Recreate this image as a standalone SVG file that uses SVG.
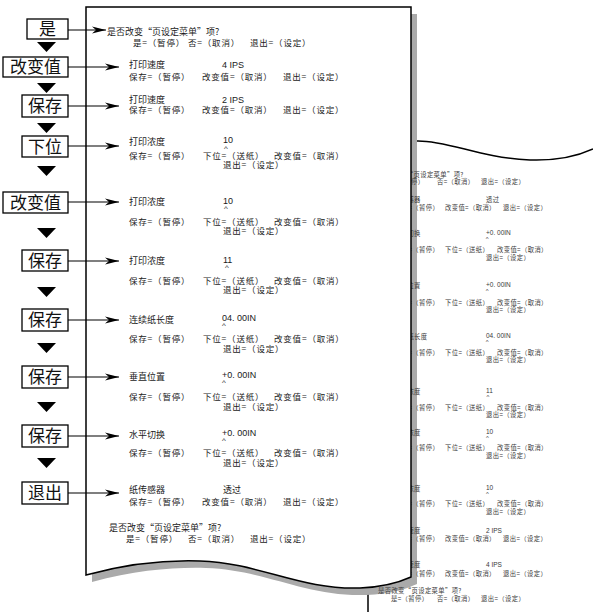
<svg xmlns="http://www.w3.org/2000/svg" width="593" height="612" viewBox="0 0 593 612">
<defs>
<style>
.t{font-family:"Noto Sans CJK SC","Liberation Sans",sans-serif;font-size:8.5px;fill:#1a1a1a;letter-spacing:0.8px}
.lb{font-size:9px;letter-spacing:0}
.n{font-family:"Liberation Sans",sans-serif;font-size:9px;letter-spacing:0}
.c{font-family:"Liberation Sans",sans-serif;font-size:8px;letter-spacing:0}
.s{font-family:"Noto Sans CJK SC","Liberation Sans",sans-serif;font-size:6.3px;fill:#3a3a3a;letter-spacing:0.4px}
.sn{font-family:"Liberation Sans",sans-serif;font-size:6.5px;letter-spacing:0}
.sc{font-family:"Liberation Sans",sans-serif;font-size:6px;letter-spacing:0}
.box{fill:#fff;stroke:#000;stroke-width:1.3}
.bl{font-family:"Noto Sans CJK SC","Liberation Sans",sans-serif;font-size:17px;fill:#111;text-anchor:middle}
.ln{stroke:#000;stroke-width:1.2;fill:none}
.tri{fill:#000}
</style>
<marker id="ah" viewBox="0 -4 14 8" refX="14" refY="0" markerWidth="14" markerHeight="8" markerUnits="userSpaceOnUse" orient="auto">
<path d="M0,-3.5 L14,0 L0,3.5 L4,0 Z" fill="#000"/>
</marker>
</defs>
<rect width="593" height="612" fill="#fff"/>

<g id="paper-right">
<path d="M368,612 L368,141 L418,141 C450,141 480,158 530,160 C560,161 580,155 593,149" fill="#fff" stroke="#000" stroke-width="1.5"/>
</g>

<g id="paper-main-shadow">
<path d="M92,14 L417,14 L417,584 C406,589 391,594 366,595 C306,597 266,570 206,568 C176,567 136,570 92,582 Z" fill="#aaa"/>
</g>

<g id="paper-right-text">
<text class="s"><tspan x="380" y="176.5">是否改变“页设定菜单”项?</tspan><tspan x="387" y="184">是=（暂停）</tspan><tspan x="437">否=（取消）</tspan><tspan x="481">退出=（设定）</tspan></text>
<text class="s"><tspan x="394" y="201.5">纸传感器</tspan><tspan x="486">透过</tspan><tspan x="395" y="209.5">保存=（暂停）</tspan><tspan x="445">改变值=（取消）</tspan><tspan x="503">退出=（设定）</tspan></text>
<text class="s"><tspan x="394" y="235.5">水平切换</tspan><tspan class="sn" x="486" y="234.5">+0. 00IN</tspan><tspan class="sc" x="485.8" y="241">^</tspan><tspan x="395" y="251.5">保存=（暂停）</tspan><tspan x="445">下位=（送纸）</tspan><tspan x="497">改变值=（取消）</tspan><tspan x="486" y="259.5">退出=（设定）</tspan></text>
<text class="s"><tspan x="394" y="287.5">垂直位置</tspan><tspan class="sn" x="486" y="286.5">+0. 00IN</tspan><tspan class="sc" x="485.8" y="293">^</tspan><tspan x="395" y="304.5">保存=（暂停）</tspan><tspan x="445">下位=（送纸）</tspan><tspan x="497">改变值=（取消）</tspan><tspan x="486" y="311.5">退出=（设定）</tspan></text>
<text class="s"><tspan x="394" y="338.5">连续纸长度</tspan><tspan class="sn" x="486" y="338">04. 00IN</tspan><tspan class="sc" x="485.8" y="344">^</tspan><tspan x="395" y="354.5">保存=（暂停）</tspan><tspan x="445">下位=（送纸）</tspan><tspan x="497">改变值=（取消）</tspan><tspan x="486" y="361.5">退出=（设定）</tspan></text>
<text class="s"><tspan x="394" y="393.5">打印浓度</tspan><tspan class="sn" x="486" y="393">11</tspan><tspan class="sc" x="486.5" y="398.5">^</tspan><tspan x="395" y="409.5">保存=（暂停）</tspan><tspan x="445">下位=（送纸）</tspan><tspan x="497">改变值=（取消）</tspan><tspan x="486" y="416.5">退出=（设定）</tspan></text>
<text class="s"><tspan x="394" y="434.5">打印浓度</tspan><tspan class="sn" x="486" y="434">10</tspan><tspan class="sc" x="486" y="440">^</tspan><tspan x="395" y="449.5">保存=（暂停）</tspan><tspan x="445">下位=（送纸）</tspan><tspan x="497">改变值=（取消）</tspan><tspan x="486" y="457.5">退出=（设定）</tspan></text>
<text class="s"><tspan x="394" y="490.5">打印浓度</tspan><tspan class="sn" x="486" y="490">10</tspan><tspan class="sc" x="486" y="496">^</tspan><tspan x="395" y="505.5">保存=（暂停）</tspan><tspan x="445">下位=（送纸）</tspan><tspan x="497">改变值=（取消）</tspan><tspan x="486" y="513.5">退出=（设定）</tspan></text>
<text class="s"><tspan x="394" y="532.5">打印速度</tspan><tspan class="sn" x="486" y="532.5">2 IPS</tspan><tspan x="395" y="540.5">保存=（暂停）</tspan><tspan x="445">改变值=（取消）</tspan><tspan x="503">退出=（设定）</tspan></text>
<text class="s"><tspan x="394" y="566.5">打印速度</tspan><tspan class="sn" x="486" y="566.5">4 IPS</tspan><tspan x="395" y="575.5">保存=（暂停）</tspan><tspan x="445">改变值=（取消）</tspan><tspan x="503">退出=（设定）</tspan></text>
<text class="s"><tspan x="378" y="592.5">是否改变“页设定菜单”项?</tspan><tspan x="391" y="600.5">是=（暂停）</tspan><tspan x="437">否=（取消）</tspan><tspan x="481">退出=（设定）</tspan></text>
</g>

<g id="paper-main">
<path d="M86,7 L411,7 L411,577 C400,582 385,587 360,588 C300,590 260,563 200,561 C170,560 130,563 86,575 Z" fill="#fff" stroke="#000" stroke-width="1.5"/>
</g>

<g id="screens">
<g id="screen-1"><text class="t"><tspan class="lb" x="107" y="35">是否改变“页设定菜单”项?</tspan><tspan x="133" y="46">是=（暂停）</tspan><tspan x="188">否=（取消）</tspan><tspan x="250">退出=（设定）</tspan></text></g>
<g id="screen-2"><text class="t"><tspan class="lb" x="129" y="68">打印速度</tspan><tspan class="n" x="222" y="67.5">4 IPS</tspan><tspan x="129" y="80">保存=（暂停）</tspan><tspan x="202">改变值=（取消）</tspan><tspan x="283">退出=（设定）</tspan></text></g>
<g id="screen-3"><text class="t"><tspan class="lb" x="129" y="103">打印速度</tspan><tspan class="n" x="222" y="102.5">2 IPS</tspan><tspan x="129" y="113">保存=（暂停）</tspan><tspan x="202">改变值=（取消）</tspan><tspan x="283">退出=（设定）</tspan></text></g>
<g id="screen-4"><text class="t"><tspan class="lb" x="129" y="145">打印浓度</tspan><tspan class="n" x="223" y="143">10</tspan><tspan class="c" x="224" y="150.5">^</tspan><tspan x="129" y="159">保存=（暂停）</tspan><tspan x="203">下位=（送纸）</tspan><tspan x="274">改变值=（取消）</tspan><tspan x="223" y="168">退出=（设定）</tspan></text></g>
<g id="screen-5"><text class="t"><tspan class="lb" x="129" y="205">打印浓度</tspan><tspan class="n" x="223" y="203.5">10</tspan><tspan class="c" x="224" y="211">^</tspan><tspan x="129" y="225">保存=（暂停）</tspan><tspan x="203">下位=（送纸）</tspan><tspan x="274">改变值=（取消）</tspan><tspan x="223" y="234">退出=（设定）</tspan></text></g>
<g id="screen-6"><text class="t"><tspan class="lb" x="129" y="264">打印浓度</tspan><tspan class="n" x="223" y="262.5">11</tspan><tspan class="c" x="225" y="270">^</tspan><tspan x="129" y="284">保存=（暂停）</tspan><tspan x="203">下位=（送纸）</tspan><tspan x="274">改变值=（取消）</tspan><tspan x="223" y="293">退出=（设定）</tspan></text></g>
<g id="screen-7"><text class="t"><tspan class="lb" x="129" y="323">连续纸长度</tspan><tspan class="n" x="222" y="320.5">04. 00IN</tspan><tspan class="c" x="222" y="328">^</tspan><tspan x="129" y="342">保存=（暂停）</tspan><tspan x="203">下位=（送纸）</tspan><tspan x="274">改变值=（取消）</tspan><tspan x="223" y="351.5">退出=（设定）</tspan></text></g>
<g id="screen-8"><text class="t"><tspan class="lb" x="129" y="380">垂直位置</tspan><tspan class="n" x="222" y="377.5">+0. 00IN</tspan><tspan class="c" x="222" y="385">^</tspan><tspan x="129" y="400">保存=（暂停）</tspan><tspan x="203">下位=（送纸）</tspan><tspan x="274">改变值=（取消）</tspan><tspan x="223" y="409.5">退出=（设定）</tspan></text></g>
<g id="screen-9"><text class="t"><tspan class="lb" x="129" y="438">水平切换</tspan><tspan class="n" x="222" y="435.5">+0. 00IN</tspan><tspan class="c" x="222" y="443">^</tspan><tspan x="129" y="456">保存=（暂停）</tspan><tspan x="203">下位=（送纸）</tspan><tspan x="274">改变值=（取消）</tspan><tspan x="223" y="465.5">退出=（设定）</tspan></text></g>
<g id="screen-10"><text class="t"><tspan class="lb" x="129" y="493">纸传感器</tspan><tspan class="lb" x="223" y="493">透过</tspan><tspan x="129" y="505">保存=（暂停）</tspan><tspan x="202">改变值=（取消）</tspan><tspan x="283">退出=（设定）</tspan></text></g>
<g id="screen-11"><text class="t"><tspan class="lb" x="109" y="531">是否改变“页设定菜单”项?</tspan><tspan x="126" y="542">是=（暂停）</tspan><tspan x="188">否=（取消）</tspan><tspan x="250">退出=（设定）</tspan></text></g>
</g>

<g id="connectors">
<line class="ln" x1="68" y1="30" x2="106" y2="30" marker-end="url(#ah)"/>
<line class="ln" x1="68" y1="67" x2="119" y2="67" marker-end="url(#ah)"/>
<line class="ln" x1="68" y1="106" x2="119" y2="106" marker-end="url(#ah)"/>
<line class="ln" x1="68" y1="146" x2="119" y2="146" marker-end="url(#ah)"/>
<line class="ln" x1="68" y1="202" x2="119" y2="202" marker-end="url(#ah)"/>
<line class="ln" x1="68" y1="261" x2="119" y2="261" marker-end="url(#ah)"/>
<line class="ln" x1="68" y1="320" x2="119" y2="320" marker-end="url(#ah)"/>
<line class="ln" x1="68" y1="377" x2="119" y2="377" marker-end="url(#ah)"/>
<line class="ln" x1="68" y1="436" x2="119" y2="436" marker-end="url(#ah)"/>
<line class="ln" x1="68" y1="493" x2="119" y2="493" marker-end="url(#ah)"/>
<polygon class="tri" points="37,42 56,42 46.5,52"/>
<polygon class="tri" points="37,83 56,83 46.5,93"/>
<polygon class="tri" points="37,123 56,123 46.5,133"/>
<polygon class="tri" points="37,166 56,166 46.5,176"/>
<polygon class="tri" points="37,228 56,228 46.5,238"/>
<polygon class="tri" points="37,287 56,287 46.5,297"/>
<polygon class="tri" points="37,343 56,343 46.5,353"/>
<polygon class="tri" points="37,402 56,402 46.5,412"/>
<polygon class="tri" points="37,458 56,458 46.5,468"/>
</g>

<g id="key-1"><rect class="box" x="27" y="19" width="41" height="20"/><text class="bl" x="47.5" y="35">是</text></g>
<g id="key-2"><rect class="box" x="3" y="57" width="65" height="20"/><text class="bl" x="35.5" y="73">改变值</text></g>
<g id="key-3"><rect class="box" x="22" y="95" width="46" height="22"/><text class="bl" x="45" y="112">保存</text></g>
<g id="key-4"><rect class="box" x="22" y="136" width="46" height="21"/><text class="bl" x="45" y="152.5">下位</text></g>
<g id="key-5"><rect class="box" x="3" y="192" width="65" height="21"/><text class="bl" x="35.5" y="208.5">改变值</text></g>
<g id="key-6"><rect class="box" x="22" y="250" width="46" height="21"/><text class="bl" x="45" y="266.5">保存</text></g>
<g id="key-7"><rect class="box" x="22" y="309" width="46" height="22"/><text class="bl" x="45" y="326">保存</text></g>
<g id="key-8"><rect class="box" x="22" y="366" width="46" height="22"/><text class="bl" x="45" y="383">保存</text></g>
<g id="key-9"><rect class="box" x="22" y="425" width="46" height="22"/><text class="bl" x="45" y="442">保存</text></g>
<g id="key-10"><rect class="box" x="22" y="482" width="46" height="22"/><text class="bl" x="45" y="499">退出</text></g>
</svg>
